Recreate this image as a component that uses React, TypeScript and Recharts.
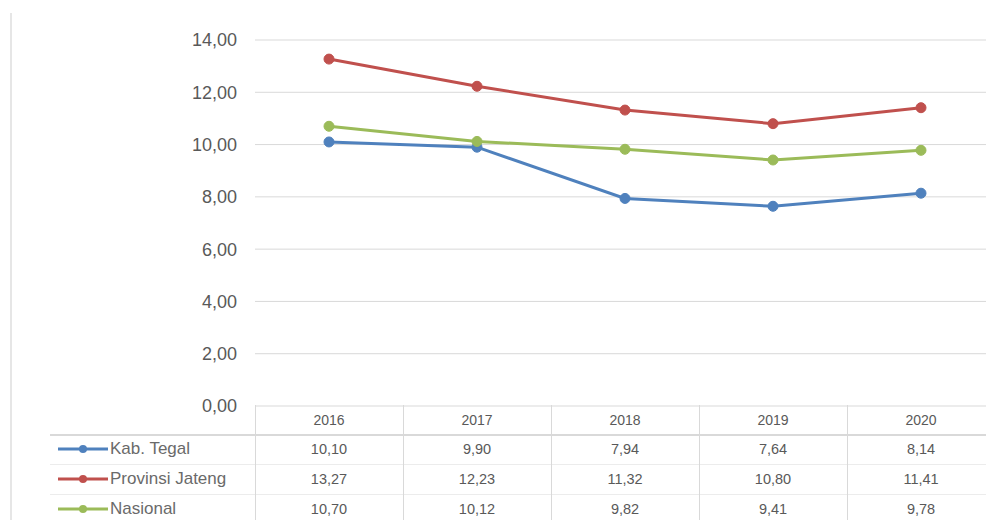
import { CartesianGrid, Line, LineChart, XAxis, YAxis } from "recharts";

const years = ["2016", "2017", "2018", "2019", "2020"];
const kabTegal = [10.1, 9.9, 7.94, 7.64, 8.14];
const provJateng = [13.27, 12.23, 11.32, 10.8, 11.41];
const nasional = [10.7, 10.12, 9.82, 9.41, 9.78];
const yTicks = [0, 2, 4, 6, 8, 10, 12, 14];

const series = [
  { key: "kab", name: "Kab. Tegal", values: kabTegal, color: "#4F81BD" },
  { key: "prov", name: "Provinsi Jateng", values: provJateng, color: "#C0504D" },
  { key: "nas", name: "Nasional", values: nasional, color: "#9BBB59" },
];

const data = years.map((year, i) => {
  const row: Record<string, string | number> = { year };
  series.forEach((s) => (row[s.key] = s.values[i]));
  return row;
});

const fmt = (v: number) => v.toFixed(2).replace(".", ",");

const W = 986;
const H = 520;
const PLOT_LEFT = 255;
const BAND = 148;
const PLOT_BOTTOM = 406;
const GRID = "#d9d9d9";
const TEXT = "#595959";
const FONT = "'Liberation Sans', Arial, sans-serif";

function DataTable() {
  const rowTop = [434, 464, 494];
  return (
    <div style={{ position: "absolute", left: 0, top: 0, width: W, height: H, pointerEvents: "none" }}>
      {/* table rules */}
      <div style={{ position: "absolute", left: 50, top: 434, width: W - 50, height: 2, background: GRID }} />
      <div style={{ position: "absolute", left: 50, top: 464, width: W - 50, height: 1, background: "#ececec" }} />
      <div style={{ position: "absolute", left: 50, top: 494, width: W - 50, height: 1, background: "#ececec" }} />
      {years.map((y, i) => (
        <div
          key={y}
          style={{ position: "absolute", left: PLOT_LEFT + i * BAND, top: 405, width: 1, height: H - 405, background: GRID }}
        />
      ))}
      {series.map((s, r) => (
        <div key={s.key}>
          <svg style={{ position: "absolute", left: 55, top: rowTop[r] + 9 }} width={56} height={12}>
            <line x1={3} y1={6} x2={53} y2={6} stroke={s.color} strokeWidth={3} />
            <circle cx={28} cy={6} r={4} fill={s.color} />
          </svg>
          <div
            style={{
              position: "absolute",
              left: 110,
              top: rowTop[r] + 5,
              fontFamily: FONT,
              fontSize: 17,
              color: "#6a6a6a",
              whiteSpace: "nowrap",
            }}
          >
            {s.name}
          </div>
          {s.values.map((v, i) => (
            <div
              key={i}
              style={{
                position: "absolute",
                left: PLOT_LEFT + i * BAND,
                width: BAND,
                top: rowTop[r] + 7,
                textAlign: "center",
                fontFamily: FONT,
                fontSize: 14.5,
                color: TEXT,
              }}
            >
              {fmt(v)}
            </div>
          ))}
        </div>
      ))}
    </div>
  );
}

export default function App() {
  return (
    <div style={{ position: "absolute", left: 0, top: 0, width: W, height: H, overflow: "hidden", background: "#fff" }}>
      <div style={{ position: "absolute", left: 10, top: 13, width: 2, height: H - 13, background: "#e6e6e6" }} />
      <LineChart
        width={PLOT_LEFT + BAND * years.length + 5}
        height={H}
        data={data}
        margin={{ top: 40, right: 5, bottom: 0, left: 0 }}
      >
        <CartesianGrid vertical={false} stroke={GRID} />
        <XAxis
          dataKey="year"
          height={H - PLOT_BOTTOM}
          padding={{ left: BAND / 2, right: BAND / 2 }}
          axisLine={false}
          tickLine={false}
          tickSize={0}
          tickMargin={9}
          tick={{ fontSize: 14, fill: TEXT, fontFamily: FONT }}
        />
        <YAxis
          width={PLOT_LEFT}
          domain={[0, 14]}
          ticks={yTicks}
          axisLine={false}
          tickLine={false}
          tickSize={0}
          tickMargin={18}
          tickFormatter={fmt}
          tick={{ fontSize: 18, fill: TEXT, fontFamily: FONT }}
        />
        {series.map((s) => (
          <Line
            key={s.key}
            dataKey={s.key}
            name={s.name}
            stroke={s.color}
            strokeWidth={3}
            dot={{ r: 5, fill: s.color, stroke: s.color, strokeWidth: 1 }}
            isAnimationActive={false}
          />
        ))}
      </LineChart>
      <DataTable />
    </div>
  );
}
